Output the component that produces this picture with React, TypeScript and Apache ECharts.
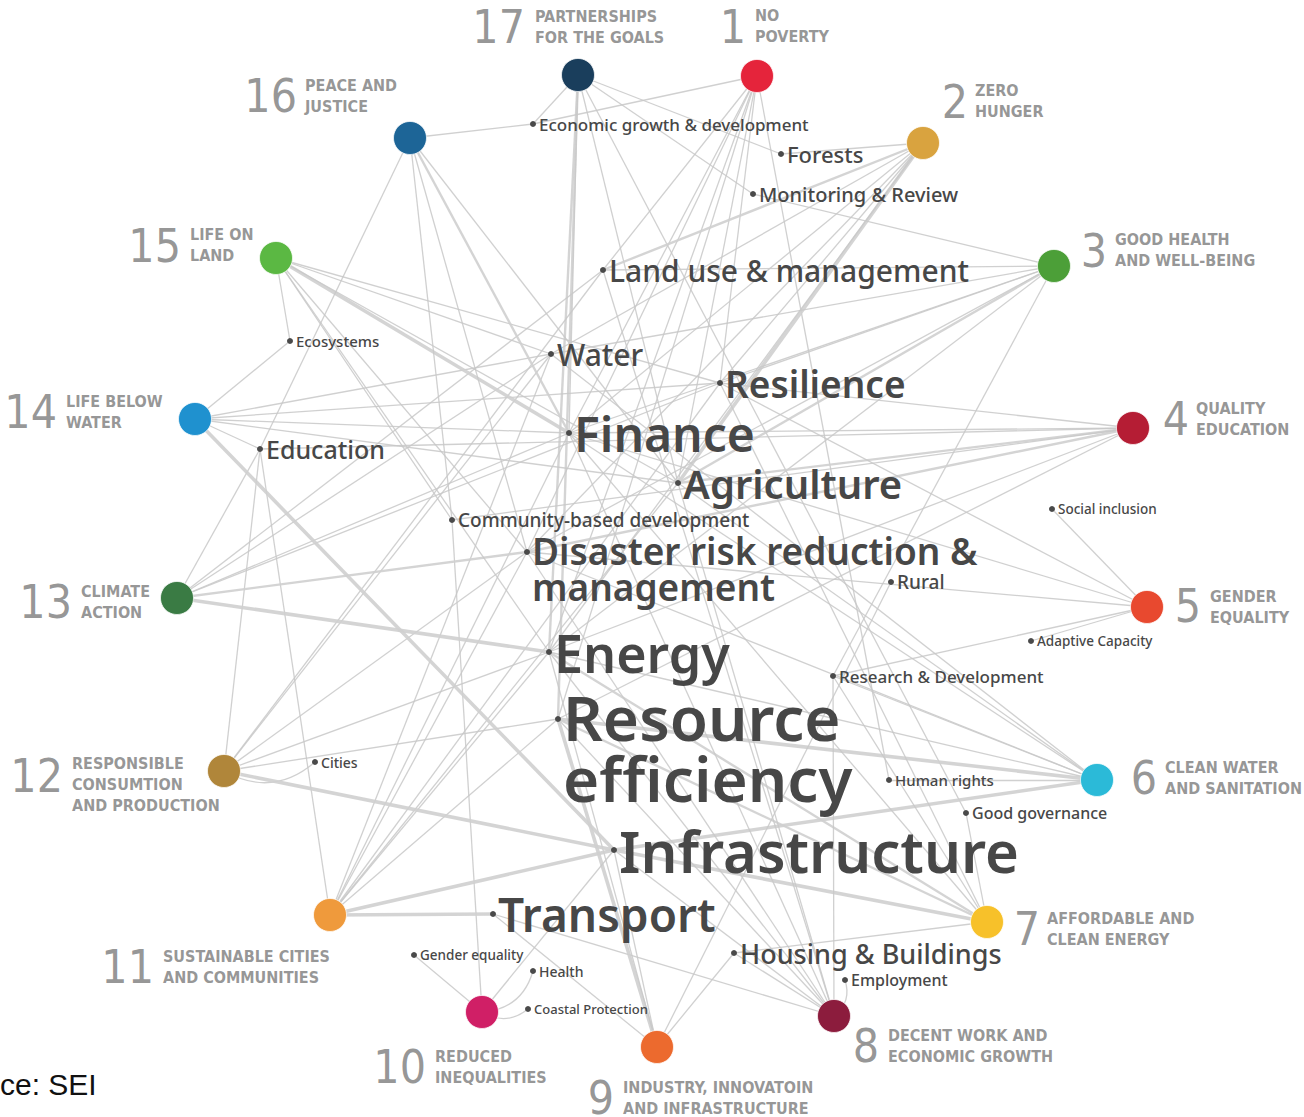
import React, { useEffect, useRef } from "react";
import * as echarts from "echarts";

// ---- SDG goals (outer ring) ----
const goalNumbers = ["17", "1", "2", "3", "4", "5", "6", "7", "8", "9", "10", "11", "12", "13", "14", "15", "16"];
const goalNames = [
  "PARTNERSHIPS\nFOR THE GOALS",
  "NO\nPOVERTY",
  "ZERO\nHUNGER",
  "GOOD HEALTH\nAND WELL-BEING",
  "QUALITY\nEDUCATION",
  "GENDER\nEQUALITY",
  "CLEAN WATER\nAND SANITATION",
  "AFFORDABLE AND\nCLEAN ENERGY",
  "DECENT WORK AND\nECONOMIC GROWTH",
  "INDUSTRY, INNOVATOIN\nAND INFRASTRUCTURE",
  "REDUCED\nINEQUALITIES",
  "SUSTAINABLE CITIES\nAND COMMUNITIES",
  "RESPONSIBLE\nCONSUMTION\nAND PRODUCTION",
  "CLIMATE\nACTION",
  "LIFE BELOW\nWATER",
  "LIFE ON\nLAND",
  "PEACE AND\nJUSTICE",
];
const goalColors = [
  "#1a3e5c", "#e5243b", "#d9a33f", "#4c9f38", "#b51d34", "#e8492f", "#2bbad8", "#f7c12a",
  "#8c1c3d", "#ec6a2e", "#d01f66", "#ef9a3c", "#b0863a", "#3a7b44", "#1f91cf", "#5bb843", "#1d6597",
];
const goalX = [578, 757, 923, 1054, 1133, 1147, 1097, 987, 834, 657, 482, 330, 224, 177, 195, 276, 410];
const goalY = [75, 76, 143, 266, 428, 607, 780, 922, 1016, 1047, 1012, 915, 771, 598, 419, 258, 138];

// label placement (layout, relative to each goal node)
const numberOffset = [
  [-53, -48], [-11, -49], [45, -41], [53, -15], [56, -9], [54, -1], [60, -2], [53, 7],
  [45, 30], [-43, 51], [-56, 55], [-176, 52], [-161, 5], [-105, 4], [-138, -7], [-95, -12], [-113, -42],
];
const captionOffset = [
  [-43, -69], [-2, -71], [52, -63], [61, -37], [63, -30], [63, -21], [68, -23], [60, -14],
  [54, 9], [-34, 30], [-47, 34], [-167, 31], [-152, -18], [-96, -17], [-129, -28], [-86, -34], [-105, -63],
];

// ---- Topics (inner keywords) ----
const topicNames = [
  "Economic growth & development", "Forests", "Monitoring & Review", "Land use & management",
  "Ecosystems", "Water", "Resilience", "Finance", "Education", "Agriculture", "Social inclusion",
  "Community-based development", "Disaster risk reduction &\nmanagement", "Rural", "Adaptive Capacity",
  "Energy", "Research & Development", "Resource\nefficiency", "Cities", "Human rights", "Good governance",
  "Infrastructure", "Transport", "Housing & Buildings", "Gender equality", "Employment", "Health",
  "Coastal Protection",
];
const topicKeys = [
  "EG", "FO", "MR", "LU", "EC", "WA", "RS", "FI", "ED", "AG", "SI", "CB", "DR", "RU", "AC",
  "EN", "RD", "RE", "CI", "HR", "GG", "IN", "TR", "HB", "GE", "EM", "HE", "CP",
];
const topicX = [533, 781, 753, 603, 290, 551, 720, 569, 260, 678, 1052, 452, 527, 891, 1031, 549, 833, 558, 315, 889, 966, 614, 493, 734, 414, 845, 533, 528];
const topicY = [124, 154, 194, 270, 341, 354, 383, 433, 449, 483, 509, 520, 552, 582, 641, 652, 676, 719, 762, 780, 813, 850, 914, 953, 955, 980, 971, 1009];
const topicFont = [17, 22, 20, 30, 15, 30, 37, 48, 25, 40, 13.5, 19, 37, 19, 13.5, 52, 17, 62, 14, 15, 16, 58, 46, 27, 13.5, 16, 14, 13];

// ---- Links: [goal number, topic key, weight] ----
const links: [string, string, number][] = [
  ["17", "EN", 2], ["17", "RE", 2], ["17", "FI", 1], ["17", "FO", 1], ["17", "MR", 1], ["17", "AG", 1], ["17", "GG", 1], ["17", "EG", 1],
  ["1", "EG", 1], ["1", "FI", 1], ["1", "AG", 1], ["1", "EN", 1], ["1", "DR", 1], ["1", "RS", 1], ["1", "RE", 1], ["1", "HR", 1], ["1", "LU", 1],
  ["2", "FO", 1], ["2", "LU", 2], ["2", "AG", 3], ["2", "WA", 1], ["2", "RS", 1], ["2", "DR", 1], ["2", "EN", 1], ["2", "FI", 1],
  ["3", "MR", 1], ["3", "LU", 1], ["3", "FI", 1], ["3", "AG", 2], ["3", "DR", 1], ["3", "RS", 1], ["3", "EN", 1], ["3", "RD", 1], ["3", "WA", 1],
  ["4", "RS", 1], ["4", "AG", 2], ["4", "FI", 1], ["4", "DR", 2], ["4", "EN", 1], ["4", "ED", 1], ["4", "RE", 1], ["4", "CB", 1],
  ["5", "SI", 1], ["5", "AC", 1], ["5", "FI", 1], ["5", "RD", 1], ["5", "RS", 1], ["5", "DR", 1],
  ["6", "RE", 3], ["6", "IN", 3], ["6", "EN", 1], ["6", "AG", 1], ["6", "DR", 1], ["6", "RD", 1], ["6", "WA", 1], ["6", "HR", 1], ["6", "FI", 1],
  ["7", "HB", 1], ["7", "IN", 3], ["7", "RE", 2], ["7", "EN", 2], ["7", "RS", 1], ["7", "RD", 1], ["7", "FI", 1], ["7", "GG", 1],
  ["8", "EM", 1], ["8", "IN", 1], ["8", "RE", 1], ["8", "EN", 1], ["8", "AG", 1], ["8", "FI", 1], ["8", "DR", 1], ["8", "TR", 1], ["8", "RD", 1], ["8", "LU", 1], ["8", "HB", 1],
  ["9", "RE", 3], ["9", "TR", 1], ["9", "HB", 1], ["9", "IN", 1], ["9", "RU", 1], ["9", "EN", 1],
  ["10", "GE", 1], ["10", "HE", 1], ["10", "CP", 1], ["10", "CB", 1], ["10", "IN", 1],
  ["11", "TR", 3], ["11", "IN", 3], ["11", "EN", 1], ["11", "RE", 1], ["11", "DR", 1], ["11", "FI", 1], ["11", "WA", 1], ["11", "RS", 1], ["11", "ED", 1], ["11", "AG", 1],
  ["12", "CI", 1], ["12", "IN", 3], ["12", "EN", 1], ["12", "RE", 1], ["12", "DR", 1], ["12", "WA", 1], ["12", "ED", 1], ["12", "LU", 1],
  ["13", "ED", 1], ["13", "WA", 1], ["13", "FI", 1], ["13", "DR", 2], ["13", "EN", 3], ["13", "LU", 1], ["13", "RS", 1],
  ["14", "EC", 1], ["14", "RS", 1], ["14", "FI", 1], ["14", "AG", 1], ["14", "IN", 3], ["14", "WA", 1], ["14", "ED", 1],
  ["15", "EC", 1], ["15", "WA", 1], ["15", "FI", 3], ["15", "AG", 1], ["15", "RS", 1], ["15", "DR", 1], ["15", "CB", 1], ["15", "EN", 1],
  ["16", "EG", 1], ["16", "ED", 1], ["16", "FI", 2], ["16", "CB", 1], ["16", "AG", 1], ["16", "DR", 1],
];
const curvedTopics = ["CI", "HE", "CP", "EM"];

const sourceText = "ce: SEI";

const condensed = "'Liberation Sans Narrow', 'DejaVu Sans Condensed', 'Roboto', sans-serif";

export default function App() {
  const ref = useRef<HTMLDivElement>(null);
  useEffect(() => {
    document.body.style.margin = "0";
    if (!ref.current) return;
    const chart = echarts.init(ref.current, undefined, { renderer: "svg" });

    const goalNodes = goalNumbers.map((n, i) => ({
      name: "SDG" + n,
      value: [goalX[i], goalY[i]],
      symbolSize: 33,
      itemStyle: { color: goalColors[i], borderColor: "rgba(255,255,255,0.7)", borderWidth: 1 },
      label: { show: false },
    }));
    const topicNodes = topicKeys.map((k, i) => {
      const multi = topicNames[i].indexOf("\n") >= 0;
      const lh = Math.round(topicFont[i] * (multi ? 0.98 : 1.2));
      return {
        name: k,
        value: [topicX[i], topicY[i]],
        symbolSize: 6,
        itemStyle: { color: "#4a4a4a" },
        label: {
          show: true,
          position: "right",
          distance: topicFont[i] > 30 ? 2 : 3,
          formatter: topicNames[i],
          fontSize: topicFont[i],
          lineHeight: lh,
          color: "#474747",
          fontFamily: "'Noto Sans', sans-serif",
          fontWeight: topicFont[i] > 30 ? 600 : 500,
          offset: multi ? [0, lh / 2 - 2] : [0, 0],
        },
      };
    });

    const graphLinks = links.map(([g, t, w]) => ({
      source: "SDG" + g,
      target: t,
      lineStyle: {
        width: w === 3 ? 3.6 : w === 2 ? 2.4 : 1.3,
        color: w >= 2 ? "#cfcfcf" : "#c8c8c8",
        opacity: w >= 2 ? 0.9 : 0.85,
        curveness: curvedTopics.indexOf(t) >= 0 ? -0.35 : 0,
      },
    }));

    const numberData = goalNumbers.map((n, i) => ({
      value: [goalX[i] + numberOffset[i][0], goalY[i] + numberOffset[i][1]],
      label: { formatter: n },
    }));
    const captionData = goalNames.map((t, i) => ({
      value: [goalX[i] + captionOffset[i][0], goalY[i] + captionOffset[i][1]],
      label: { formatter: t },
    }));

    chart.setOption({
      animation: false,
      backgroundColor: "#ffffff",
      grid: { left: 0, right: 0, top: 0, bottom: 0 },
      xAxis: { type: "value", min: 0, max: 1304, show: false },
      yAxis: { type: "value", min: 0, max: 1117, inverse: true, show: false },
      title: {
        text: sourceText,
        left: 0,
        top: 1069,
        padding: 0,
        textStyle: { fontSize: 30, fontWeight: "normal", color: "#111", fontFamily: "'Liberation Sans', sans-serif" },
      },
      series: [
        {
          type: "graph",
          coordinateSystem: "cartesian2d",
          xAxisIndex: 0,
          yAxisIndex: 0,
          data: [...goalNodes, ...topicNodes],
          links: graphLinks,
          edgeSymbol: ["none", "none"],
          silent: true,
          emphasis: { disabled: true },
          z: 2,
        },
        {
          type: "scatter",
          silent: true,
          symbolSize: 0,
          data: numberData,
          z: 3,
          label: {
            show: true,
            position: [0, 0],
            align: "right",
            verticalAlign: "middle",
            fontSize: 46,
            color: "#7b7b7b",
            fontFamily: condensed,
            fontWeight: "normal",
          },
        },
        {
          type: "scatter",
          silent: true,
          symbolSize: 0,
          data: captionData,
          z: 3,
          label: {
            show: true,
            position: [0, 0],
            align: "left",
            verticalAlign: "top",
            fontSize: 16,
            lineHeight: 21,
            color: "#7b7b7b",
            fontFamily: condensed,
            fontWeight: "bold",
          },
        },
      ],
    });
    return () => chart.dispose();
  }, []);
  return <div ref={ref} style={{ width: 1304, height: 1117 }} />;
}
